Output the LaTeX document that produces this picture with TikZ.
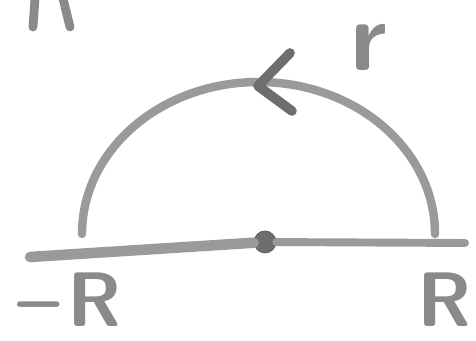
\documentclass[tikz,border=0pt]{standalone}
\usepackage{xcolor}
\usepackage{tikz}
\usetikzlibrary{arrows.meta,calc,positioning}
\definecolor{penCol}{HTML}{9A9A9A}
\definecolor{inkCol}{HTML}{6E6E6E}
\definecolor{txtCol}{HTML}{8A8A8A}
\tikzset{
  stroke/.style={draw=penCol, line width=5pt, line cap=round, line join=round},
  chev/.style={draw=inkCol, line width=5.5pt, line cap=round, line join=round},
  pole/.style={circle, fill=inkCol, draw=inkCol!80!black, inner sep=0pt, minimum size=0.44cm},
  lab/.style={text=txtCol, inner sep=0pt, font=\fontsize{44}{44}\selectfont\sffamily\bfseries},
  rlab/.style={text=txtCol, inner sep=0pt, font=\fontsize{56}{56}\selectfont\sffamily\bfseries},
}
\begin{document}
\begin{tikzpicture}
  \useasboundingbox (0,0) rectangle (9.52,6.82);
  % real axis with the pole at the origin
  \coordinate (ml) at (0.6,1.68);
  \coordinate (mr) at (9.3,1.96);
  \node[pole] (o) at (5.3,1.98) {};
  \draw[stroke, line width=6pt] (ml) -- (o);
  \draw[stroke, line width=4.5pt] (o) -- (mr);
  % semicircle arc
  \coordinate (ar) at (8.70,2.14);
  \coordinate (al) at (1.64,2.14);
  \draw[stroke, line width=4.8pt] (ar) arc[start angle=0, end angle=180, x radius=3.53, y radius=3.04];
  % arrow head on the arc
  \coordinate (tip) at (5.16,5.10);
  \draw[chev] ($(tip)+(0.64,0.66)$) -- (tip) -- ($(tip)+(0.68,-0.50)$);
  % labels
  \node[rlab] (r) at (7.38,5.88) {r};
  \node[lab] (mR) at (1.40,0.82) {\textendash\hspace{0.1em}R};
  \node[lab] (pR) at (8.90,0.82) {R};
  % fragment cut at the top edge
  \coordinate (f1) at (0.70,6.85);
  \coordinate (f2) at (0.66,6.28);
  \coordinate (f3) at (1.26,6.85);
  \coordinate (f4) at (1.40,6.28);
  \draw[stroke, draw=txtCol] (f1) -- (f2);
  \draw[stroke, draw=txtCol] (f3) -- (f4);
\end{tikzpicture}
\end{document}
